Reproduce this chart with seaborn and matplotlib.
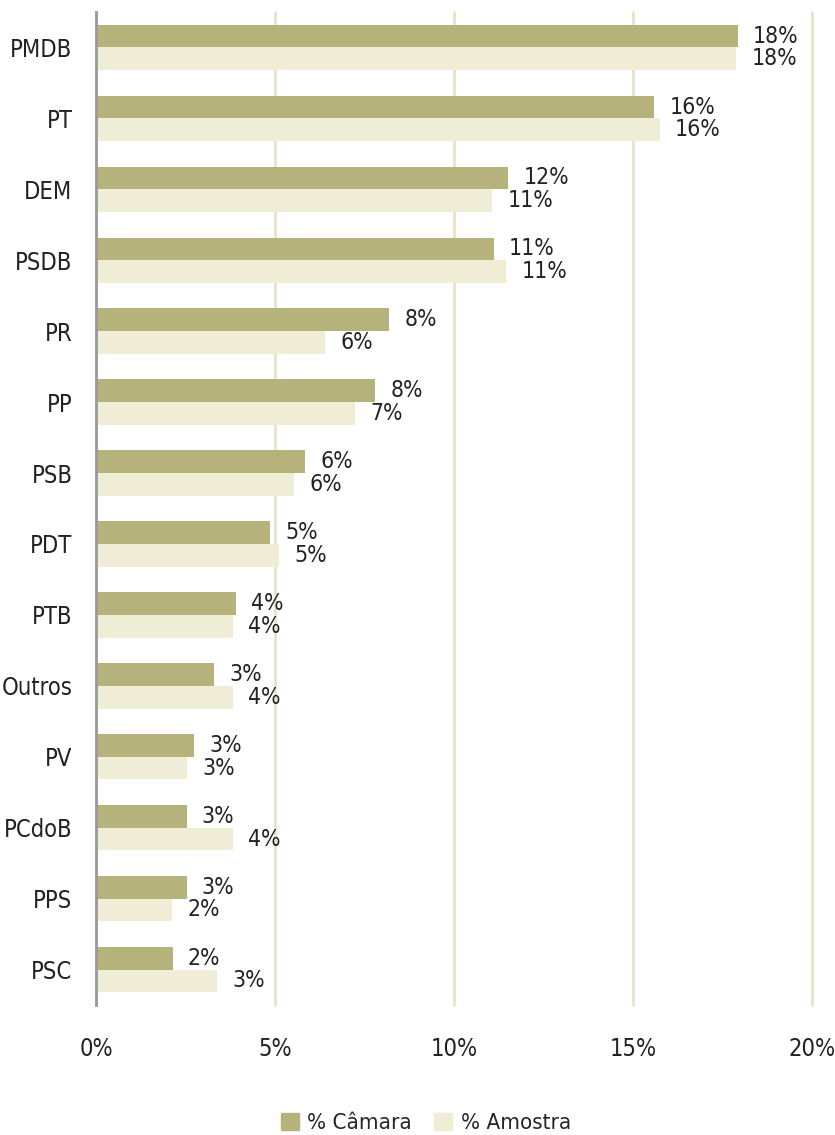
import pandas as pd
import matplotlib
matplotlib.use('Agg')
import matplotlib.pyplot as plt
import seaborn as sns

# data
partidos = ['PMDB', 'PT', 'DEM', 'PSDB', 'PR', 'PP', 'PSB', 'PDT', 'PTB',
            'Outros', 'PV', 'PCdoB', 'PPS', 'PSC']
camara = [17.93, 15.59, 11.52, 11.11, 8.19, 7.80, 5.85, 4.87, 3.90,
          3.31, 2.73, 2.53, 2.53, 2.14]
amostra = [17.88, 15.75, 11.06, 11.45, 6.40, 7.23, 5.53, 5.11, 3.83,
           3.83, 2.54, 3.83, 2.12, 3.38]
series = ['% Câmara', '% Amostra']
x_ticks = [0, 5, 10, 15, 20]

sns.set_style('white')
plt.rcParams['font.family'] = ['DejaVu Sans']
plt.rcParams['font.stretch'] = 'condensed'

df = pd.DataFrame({'partido': partidos * 2,
                   'valor': camara + amostra,
                   'serie': [series[0]] * len(partidos) + [series[1]] * len(partidos)})

cores = {'% Câmara': '#b5b27c', '% Amostra': '#efedd5'}

fig = plt.figure(figsize=(8.35, 11.35), dpi=100)
ax = fig.add_axes([96 / 835, 1 - 1005 / 1135, (812 - 96) / 835, (1005 - 12) / 1135])

sns.barplot(data=df, y='partido', x='valor', hue='serie', orient='h',
            palette=cores, saturation=1, width=0.64, gap=0, linewidth=0,
            ax=ax, legend=False)

for c in ax.containers:
    ax.bar_label(c, labels=[f'{b.get_width():.0f}%' for b in c],
                 padding=11, fontsize=16.5, color='#222222')

ax.set_xlim(0, 20)
ax.set_ylim(13.5, -0.5)
ax.set_xticks(x_ticks)
ax.set_xticklabels([f'{t}%' for t in x_ticks])
ax.tick_params(axis='x', length=0, pad=23, labelsize=17, labelcolor='#222222')
ax.tick_params(axis='y', length=0, pad=17, labelsize=17, labelcolor='#222222')
ax.set_xlabel('')
ax.set_ylabel('')
ax.grid(axis='x', color='#e6e4c8', linewidth=2)
for gl in ax.get_xgridlines():
    gl.set_clip_on(False)
ax.set_axisbelow(True)
for s in ['top', 'right', 'bottom']:
    ax.spines[s].set_visible(False)
ax.spines['left'].set_color('#999999')
ax.spines['left'].set_linewidth(2)

handles = [plt.Rectangle((0, 0), 1, 1, color=cores[s]) for s in series]
fig.legend(handles, series, loc='center', bbox_to_anchor=(426 / 835, 1 - 1123 / 1135),
           ncol=2, frameon=False, fontsize=16, handlelength=0.8, handleheight=0.8,
           handletextpad=0.4, columnspacing=1.0)

plt.savefig('out.png', dpi=100)
